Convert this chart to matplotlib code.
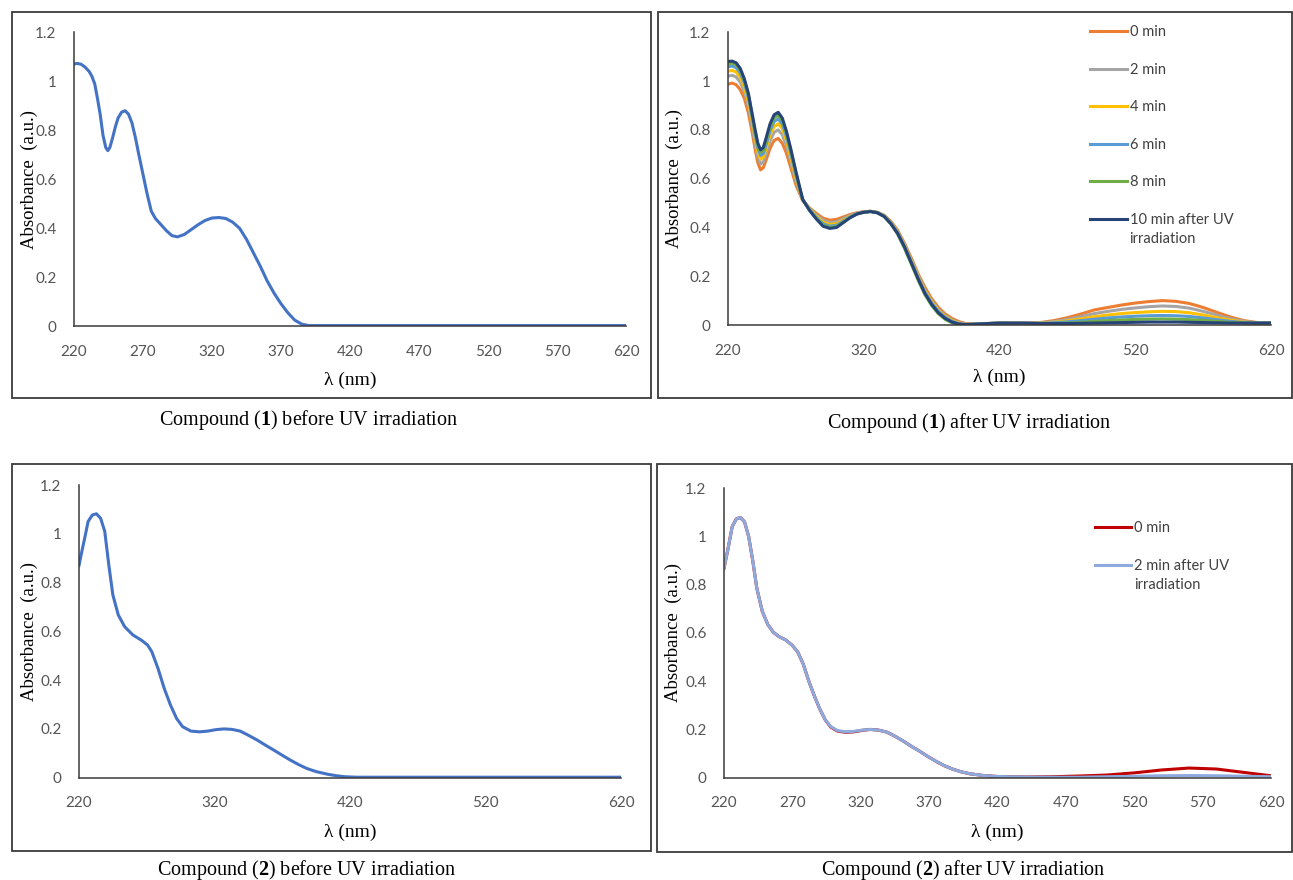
import matplotlib
matplotlib.use('Agg')
import matplotlib.pyplot as plt
from matplotlib.patches import Rectangle
from matplotlib.ticker import FuncFormatter

plt.rcParams['mathtext.fontset'] = 'custom'
plt.rcParams['mathtext.rm'] = 'Liberation Serif'
plt.rcParams['mathtext.bf'] = 'Liberation Serif:bold'

# Compound (1) before UV irradiation
wl_1a = [220, 222, 225, 228, 231, 233, 235, 237, 239, 241, 243, 244.5, 246, 248, 250, 252,
         254.5, 257, 259.5, 262, 264.5, 267, 270, 273, 276, 279, 283, 287, 291, 295, 300,
         305, 310, 315, 320, 325, 330, 335, 340, 345, 350, 355, 360, 365, 370, 375, 380,
         385, 390, 400, 450, 500, 550, 620]
abs_1a = [1.07, 1.073, 1.07, 1.058, 1.04, 1.02, 0.99, 0.93, 0.864, 0.78, 0.73, 0.717, 0.73,
          0.77, 0.815, 0.851, 0.874, 0.88, 0.866, 0.83, 0.77, 0.70, 0.62, 0.54, 0.47, 0.44,
          0.415, 0.39, 0.37, 0.365, 0.375, 0.395, 0.415, 0.432, 0.442, 0.444, 0.44, 0.425,
          0.40, 0.355, 0.30, 0.245, 0.185, 0.135, 0.092, 0.055, 0.025, 0.009, 0.003, 0.003,
          0.003, 0.003, 0.003, 0.003]

# Compound (1) after UV irradiation
wl_1b = [220, 223, 226, 229, 232, 235, 238, 240, 242, 244, 246, 248, 251, 254, 257, 260,
         263, 266, 270, 275, 280, 285, 290, 295, 300, 305, 310, 315, 320, 325, 330, 335,
         340, 345, 350, 355, 360, 365, 370, 375, 380, 385, 390, 395, 400, 420, 440, 450,
         460, 470, 480, 490, 500, 510, 520, 530, 540, 550, 560, 570, 580, 590, 600, 610, 620]
abs_0min = [0.987, 0.992, 0.985, 0.965, 0.93, 0.87, 0.785, 0.72, 0.665, 0.636, 0.645, 0.675,
            0.725, 0.757, 0.765, 0.745, 0.705, 0.65, 0.575,
            0.51, 0.48, 0.458, 0.438, 0.43, 0.433, 0.443, 0.453, 0.46, 0.465, 0.466,
            0.462, 0.45, 0.425, 0.388, 0.335, 0.275, 0.21, 0.155, 0.108, 0.072, 0.045, 0.027,
            0.014, 0.006, 0.004, 0.008, 0.007, 0.01, 0.018, 0.03, 0.045, 0.062, 0.072, 0.082,
            0.09, 0.096, 0.1, 0.097, 0.088, 0.072, 0.052, 0.033, 0.018, 0.01, 0.01]
abs_2min = [1.02, 1.024, 1.017, 0.996, 0.958, 0.898, 0.81, 0.745, 0.69, 0.66, 0.668, 0.70,
            0.755, 0.79, 0.80, 0.78, 0.735, 0.675, 0.59,
            0.512, 0.478, 0.452, 0.43, 0.42, 0.423, 0.436, 0.449, 0.458, 0.464, 0.466,
            0.462, 0.449, 0.422, 0.383, 0.33, 0.268, 0.203, 0.145, 0.1, 0.064, 0.038, 0.021,
            0.01, 0.004, 0.004, 0.008, 0.007, 0.009, 0.014, 0.023, 0.034, 0.047, 0.056, 0.064,
            0.07, 0.075, 0.078, 0.076, 0.069, 0.056, 0.041, 0.026, 0.015, 0.009, 0.009]
abs_4min = [1.04, 1.044, 1.037, 1.015, 0.976, 0.916, 0.83, 0.765, 0.71, 0.68, 0.688, 0.722,
            0.78, 0.814, 0.825, 0.805, 0.758, 0.693, 0.603,
            0.513, 0.476, 0.446, 0.422, 0.412, 0.415, 0.43, 0.445, 0.456, 0.463, 0.466,
            0.462, 0.448, 0.42, 0.38, 0.326, 0.263, 0.198, 0.14, 0.095, 0.059, 0.034, 0.018,
            0.008, 0.003, 0.003, 0.008, 0.007, 0.008, 0.011, 0.017, 0.025, 0.034, 0.041, 0.047,
            0.051, 0.054, 0.056, 0.055, 0.05, 0.041, 0.03, 0.02, 0.012, 0.008, 0.008]
abs_6min = [1.058, 1.062, 1.055, 1.033, 0.993, 0.933, 0.845, 0.78, 0.725, 0.695, 0.703, 0.738,
            0.798, 0.834, 0.845, 0.823, 0.775, 0.71, 0.615,
            0.514, 0.474, 0.441, 0.415, 0.405, 0.409, 0.426, 0.443, 0.456, 0.463, 0.466,
            0.461, 0.447, 0.418, 0.378, 0.323, 0.259, 0.194, 0.135, 0.09, 0.055, 0.031, 0.015,
            0.006, 0.002, 0.003, 0.008, 0.007, 0.007, 0.009, 0.013, 0.018, 0.024, 0.029, 0.033,
            0.036, 0.038, 0.039, 0.038, 0.035, 0.029, 0.022, 0.015, 0.01, 0.008, 0.008]
abs_8min = [1.07, 1.074, 1.067, 1.044, 1.003, 0.943, 0.853, 0.79, 0.735, 0.708, 0.716, 0.752,
            0.813, 0.85, 0.86, 0.837, 0.787, 0.72, 0.622,
            0.514, 0.472, 0.437, 0.41, 0.40, 0.404, 0.423, 0.441, 0.455, 0.462, 0.465,
            0.46, 0.445, 0.414, 0.372, 0.315, 0.25, 0.185, 0.125, 0.08, 0.046, 0.023, 0.009,
            0.002, 0.0, 0.001, 0.006, 0.006, 0.005, 0.006, 0.008, 0.011, 0.015, 0.018, 0.021,
            0.023, 0.024, 0.025, 0.024, 0.022, 0.019, 0.015, 0.011, 0.008, 0.007, 0.007]
abs_10min = [1.08, 1.082, 1.075, 1.052, 1.01, 0.95, 0.86, 0.80, 0.745, 0.718, 0.728, 0.765,
             0.825, 0.862, 0.872, 0.848, 0.795, 0.728, 0.63,
             0.515, 0.47, 0.435, 0.405, 0.396, 0.40, 0.42, 0.44, 0.455, 0.462, 0.465,
             0.46, 0.445, 0.415, 0.375, 0.32, 0.255, 0.19, 0.13, 0.085, 0.05, 0.027, 0.012,
             0.004, 0.002, 0.003, 0.008, 0.008, 0.006, 0.006, 0.006, 0.007, 0.008, 0.009, 0.01,
             0.011, 0.012, 0.012, 0.012, 0.011, 0.01, 0.009, 0.008, 0.008, 0.008, 0.008]
labels_1b = ['0 min', '2 min', '4 min', '6 min', '8 min', '10 min after UV\nirradiation']
colors_1b = ['#ED7D31', '#A5A5A5', '#FFC000', '#5B9BD5', '#70AD47', '#264478']

# Compound (2) before UV irradiation
wl_2a = [220, 222, 224.5, 226.7, 229.8, 232.9, 236, 239, 242, 245, 249, 253.7, 259.8, 266,
         270.6, 273.7, 278.3, 282.9, 287.5, 292, 296.5, 302.6, 309, 315, 321, 327, 333, 339,
         345, 351.6, 357.7, 363.8, 370, 376, 382, 388, 395, 403.6, 410, 416, 425, 450, 500,
         550, 620]
abs_2a = [0.87, 0.925, 0.99, 1.05, 1.077, 1.082, 1.063, 1.01, 0.872, 0.749, 0.667, 0.619,
          0.585, 0.564, 0.544, 0.517, 0.448, 0.366, 0.298, 0.243, 0.209, 0.191, 0.188, 0.191,
          0.197, 0.2, 0.198, 0.191, 0.174, 0.154, 0.133, 0.113, 0.092, 0.072, 0.054, 0.038,
          0.025, 0.014, 0.008, 0.004, 0.002, 0.002, 0.002, 0.002, 0.002]

# Compound (2) after UV irradiation
wl_2b = [220, 223, 226, 229, 232, 235, 238, 241, 244, 248, 252, 256, 260, 265, 270, 274, 278,
         282, 286, 290, 294, 298, 303, 309, 315, 321, 327, 333, 339, 345, 351, 357, 363, 369,
         375, 381, 387, 393, 400, 410, 420, 440, 460, 480, 500, 520, 540, 560, 580, 600, 620]
abs_2b_0min = [0.868, 0.95, 1.04, 1.072, 1.078, 1.06, 1.0, 0.9, 0.785, 0.689, 0.635, 0.603,
               0.585, 0.571, 0.548, 0.52, 0.47, 0.40, 0.34, 0.285, 0.24, 0.21, 0.193, 0.188,
               0.19, 0.196, 0.2, 0.197, 0.189, 0.172, 0.152, 0.13, 0.11, 0.088, 0.068, 0.05,
               0.036, 0.025, 0.016, 0.009, 0.005, 0.003, 0.004, 0.007, 0.011, 0.02, 0.032,
               0.04, 0.036, 0.022, 0.008]
abs_2b_2min = [0.868, 0.95, 1.04, 1.072, 1.078, 1.06, 1.0, 0.9, 0.785, 0.689, 0.635, 0.603,
               0.585, 0.571, 0.548, 0.52, 0.47, 0.40, 0.34, 0.285, 0.24, 0.212, 0.195, 0.19,
               0.192, 0.197, 0.2, 0.197, 0.189, 0.172, 0.152, 0.13, 0.11, 0.088, 0.068, 0.05,
               0.036, 0.025, 0.016, 0.009, 0.005, 0.003, 0.002, 0.002, 0.004, 0.006, 0.008,
               0.009, 0.008, 0.006, 0.004]
labels_2b = ['0 min', '2 min after UV\nirradiation']
colors_2b = ['#C00000', '#8EA9DB']

captions = ['Compound ($\\mathbf{1}$) before UV irradiation',
            'Compound ($\\mathbf{1}$) after UV irradiation',
            'Compound ($\\mathbf{2}$) before UV irradiation',
            'Compound ($\\mathbf{2}$) after UV irradiation']

W, H = 1293, 880
SERIF = 'Liberation Serif'
SANS = 'Lato'
LW = 2.2


def px_rect(x0, y0, x1, y1):
    return [x0 / W, 1 - y1 / H, (x1 - x0) / W, (y1 - y0) / H]


def style(ax, xticks, ylab_x, xlab_y):
    ax.set_xlim(220, 620)
    ax.set_ylim(0, 1.2)
    ax.set_xticks(xticks)
    ax.set_yticks([0, 0.2, 0.4, 0.6, 0.8, 1.0, 1.2])
    ax.yaxis.set_major_formatter(FuncFormatter(lambda v, p: f'{v:g}'))
    for s in ('top', 'right'):
        ax.spines[s].set_visible(False)
    for s in ('left', 'bottom'):
        ax.spines[s].set_color('#3a3a3a')
        ax.spines[s].set_linewidth(1.1)
    ax.tick_params(length=0, labelsize=11, labelcolor='#555555')
    ax.tick_params(axis='y', pad=12.5)
    ax.tick_params(axis='x', pad=13.5)
    for t in ax.get_xticklabels() + ax.get_yticklabels():
        t.set_family(SANS)
    ax.set_xlabel('λ (nm)', family=SERIF, fontsize=14)
    ax.set_ylabel('Absorbance  (a.u.)', family=SERIF, fontsize=13.5)
    ax.xaxis.set_label_coords(0.5, xlab_y)
    ax.yaxis.set_label_coords(ylab_x, 0.5)
    ax.xaxis.label.set_va('center')
    ax.yaxis.label.set_va('center')


def legend(ax, anchor):
    leg = ax.legend(loc='upper left', bbox_to_anchor=anchor, frameon=False,
                    borderpad=0, borderaxespad=0, handlelength=2.5, handletextpad=0.2,
                    handleheight=1.2, labelspacing=1.55,
                    prop={'family': SANS, 'size': 10.5})
    for t in leg.get_texts():
        t.set_color('#404040')
        t.set_linespacing(1.45)
    # keep the handle level with the first line of a wrapped label
    for col in leg._legend_handle_box.get_children():
        for row in col.get_children():
            row.align = 'top'
    return leg


fig = plt.figure(figsize=(W / 100, H / 100), dpi=100)

boxes = [(12, 12, 651, 398), (658, 12, 1292, 398), (12, 464, 651, 851), (657, 464, 1292, 852)]
for b in boxes:
    fig.add_artist(Rectangle((b[0] / W, 1 - b[3] / H), (b[2] - b[0]) / W, (b[3] - b[1]) / H,
                             transform=fig.transFigure, fill=False, ec='#3a3a3a', lw=1.3))

ticks_50 = list(range(220, 621, 50))
ticks_100 = list(range(220, 621, 100))

ax1 = fig.add_axes(px_rect(74, 32.3, 626, 326.3))
ax1.plot(wl_1a, abs_1a, color='#4472C4', lw=LW)
style(ax1, ticks_50, -0.0815, -0.183)

ax2 = fig.add_axes(px_rect(728, 32.3, 1271, 325))
for vals, lab, c in zip([abs_0min, abs_2min, abs_4min, abs_6min, abs_8min, abs_10min],
                        labels_1b, colors_1b):
    ax2.plot(wl_1b, vals, color=c, lw=LW, label=lab)
style(ax2, ticks_100, -0.0985, -0.178)
legend(ax2, (0.667, 1.025))

ax3 = fig.add_axes(px_rect(79, 485, 621, 777.7))
ax3.plot(wl_2a, abs_2a, color='#4472C4', lw=LW)
style(ax3, ticks_100, -0.092, -0.186)

ax4 = fig.add_axes(px_rect(724, 488, 1271, 777.7))
for vals, lab, c in zip([abs_2b_0min, abs_2b_2min], labels_2b, colors_2b):
    ax4.plot(wl_2b, vals, color=c, lw=LW, label=lab)
style(ax4, ticks_50, -0.093, -0.187)
legend(ax4, (0.678, 0.886))

cap_pos = [(309, 420), (969, 423), (307, 870), (963, 870)]
for (cx, cy), txt in zip(cap_pos, captions):
    fig.text(cx / W, 1 - cy / H, txt, ha='center', va='center', family=SERIF, fontsize=14.5)

fig.savefig('out.png', dpi=100)
